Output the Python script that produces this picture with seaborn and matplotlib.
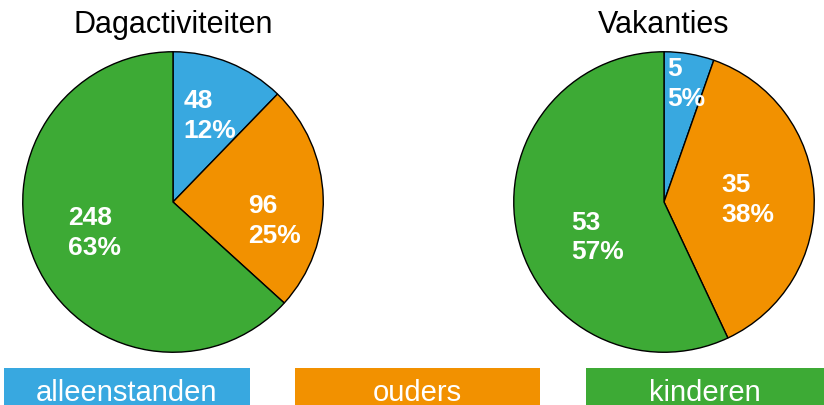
import matplotlib
matplotlib.use("Agg")
import matplotlib.pyplot as plt
from matplotlib.patches import Rectangle
import seaborn as sns

# data
groups = ["alleenstanden", "ouders", "kinderen"]
titles = ["Dagactiviteiten", "Vakanties"]
dag_values = [48, 96, 248]
dag_pct = [12, 25, 63]
vak_values = [5, 35, 53]
vak_pct = [5, 38, 57]

# label offsets (x, y in pie units, left aligned text)
dag_label_pos = [(0.07, 0.58), (0.50, -0.12), (-0.70, -0.20)]
vak_label_pos = [(0.02, 0.79), (0.38, 0.02), (-0.62, -0.23)]

sns.set_theme(style="white")
plt.rcParams['font.family'] = ['Liberation Sans', 'DejaVu Sans']
colors = sns.color_palette(["#38a8e0", "#f29100", "#3daa35"])

W, H = 824, 406
fig = plt.figure(figsize=(W / 100, H / 100), dpi=100)

R = 151
centers = [(173, 203), (664, 203)]
all_values = [dag_values, vak_values]
all_pct = [dag_pct, vak_pct]
all_pos = [dag_label_pos, vak_label_pos]

for (cx, cy), title, values, pcts, positions in zip(centers, titles, all_values, all_pct, all_pos):
    ax = fig.add_axes([(cx - R) / W, (H - cy - R) / H, 2 * R / W, 2 * R / H])
    ax.pie(values, colors=colors, startangle=90, counterclock=False, radius=1,
           wedgeprops=dict(edgecolor="black", linewidth=1))
    ax.set_xlim(-1.005, 1.005)
    ax.set_ylim(-1.005, 1.005)
    ax.set_aspect("auto")
    ax.axis("off")
    for v, pct, (px, py) in zip(values, pcts, positions):
        ax.text(px, py, f"{v}\n{pct}%", color="white", fontsize=19, fontweight="bold",
                ha="left", va="center", linespacing=1.3)
    fig.text(cx / W, (H - 25) / H, title, fontsize=22, ha="center", va="center", color="black")

# legend boxes at the bottom
boxes = [(4, 250), (295, 540), (586, 824)]
for (x0, x1), name, col in zip(boxes, groups, colors):
    fig.patches.append(Rectangle((x0 / W, 0), (x1 - x0) / W, 37 / H, transform=fig.transFigure,
                                 facecolor=col, edgecolor="none"))
    fig.text((x0 + x1) / 2 / W, 5 / H, name, fontsize=21, color="white", ha="center", va="baseline")

fig.savefig("out.png", dpi=100)
